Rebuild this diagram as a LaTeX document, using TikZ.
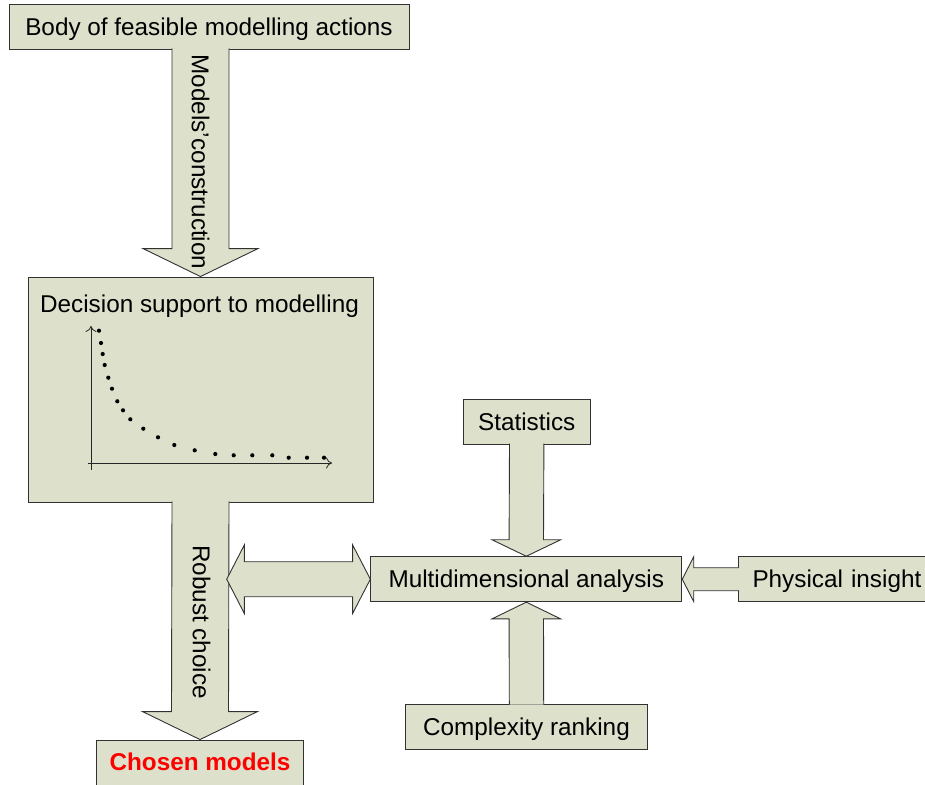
\documentclass[tikz,border=0pt]{standalone}
\usepackage{fontspec}
\setmainfont{Liberation Sans}
\usetikzlibrary{calc,arrows.meta}
\definecolor{boxfill}{RGB}{221,225,204}
\definecolor{edge}{RGB}{50,50,50}
\tikzset{
  txt/.style={font=\fontsize{24.3}{29}\selectfont, text height=22pt, text depth=4.6pt},
  box/.style={draw=edge, fill=boxfill, line width=0.9pt, inner sep=0pt, anchor=center, txt, text=black},
  barrow/.style={draw=edge, fill=boxfill, line width=0.9pt, line join=miter},
  lbl/.style={txt, inner sep=0pt},
  axis/.style={draw=black!85, line width=0.8pt, -{To[length=6pt,width=11pt]}},
  dot/.style={fill=black, draw=none}
}
\begin{document}
\begin{tikzpicture}[x=1pt,y=-1pt]
\useasboundingbox (0,0) rectangle (925,784);
% boxes
\node[box, minimum width=400pt, minimum height=45pt] (top) at (209,26.5) {Body of feasible modelling actions};
\node[box, minimum width=345pt, minimum height=225pt] (dec) at (200.5,389.5) {};
\node[lbl] (dectitle) at (199.5,303.5) {Decision support to modelling};
\node[box, minimum width=207pt, minimum height=50pt, text depth=10.6pt, font=\fontsize{24.3}{29}\selectfont\bfseries, text=red] (chosen) at (200,765) {Chosen models};
\node[box, minimum width=126.5pt, minimum height=44.7pt] (stat) at (526.7,421.7) {Statistics};
\node[box, minimum width=311pt, minimum height=45pt] (multi) at (526.3,579.2) {Multidimensional analysis};
\node[box, minimum width=200pt, minimum height=45pt, text width=172pt, align=left] (phys) at (838.5,579.2) {Physical insight};
\node[box, minimum width=241.4pt, minimum height=45.3pt] (comp) at (526.5,726.7) {Complexity ranking};

% plot inside decision box
\coordinate (orig) at (91,463);
\draw[axis] ($(orig)+(0,7)$) -- ($(orig)+(0,-137)$);
\draw[axis] ($(orig)+(-3,0)$) -- ($(orig)+(241,0)$);
\foreach \px/\py in {99/330.7,101/343,102.7/354,104.7/365,108.3/377.7,112/388.7,117.3/401.3,123/410.3,130.3/419.3,143.3/428.7,158/437.3,174.3/445,194.7/450.3,215.3/454,233.7/455.3,252.3/455.3,272.3/455.3,288.7/457.7,307/457.7,324/457.7}
  \fill[dot] (\px,\py) circle (2.1pt);

% big downward arrows
\coordinate (a1s) at ($(top.south -| dec.north)+(0,-1)$);
\coordinate (a1e) at (dec.north);
\draw[barrow] ($(a1s)+(-28.5,0)$) -- ($(a1e)+(-28.5,-28)$) -- ($(a1e)+(-57.5,-28)$) -- (a1e)
  -- ($(a1e)+(57.5,-28)$) -- ($(a1e)+(28.5,-28)$) -- ($(a1s)+(28.5,0)$);
\node[lbl, rotate=-90] (mc) at (200.5,162) {Models’construction};

\coordinate (a2s) at ($(dec.south)+(0,-1)$);
\coordinate (a2e) at (chosen.north);
\draw[barrow] ($(a2s)+(-28.5,0)$) -- ($(a2e)+(-28.5,-28)$) -- ($(a2e)+(-57.5,-28)$) -- (a2e)
  -- ($(a2e)+(57.5,-28)$) -- ($(a2e)+(28.5,-28)$) -- ($(a2s)+(28.5,0)$);
\node[lbl, rotate=-90] (rc) at (201.5,622) {Robust choice};

% statistics arrow (down)
\coordinate (a3s) at ($(stat.south)+(0,-1)$);
\coordinate (a3e) at (multi.north);
\draw[barrow] ($(a3s)+(-17.2,0)$) -- ($(a3e)+(-17.2,-16.5)$) -- ($(a3e)+(-34.3,-16.5)$) -- (a3e)
  -- ($(a3e)+(34.3,-16.5)$) -- ($(a3e)+(17.2,-16.5)$) -- ($(a3s)+(17.2,0)$);

% complexity arrow (up)
\coordinate (a4s) at ($(comp.north)+(0,1)$);
\coordinate (a4e) at (multi.south);
\draw[barrow] ($(a4s)+(-17.2,0)$) -- ($(a4e)+(-17.2,16.7)$) -- ($(a4e)+(-34.3,16.7)$) -- (a4e)
  -- ($(a4e)+(34.3,16.7)$) -- ($(a4e)+(17.2,16.7)$) -- ($(a4s)+(17.2,0)$);

% physical insight arrow (left)
\coordinate (a5s) at ($(phys.west)+(1,0)$);
\coordinate (a5e) at (multi.east);
\draw[barrow] ($(a5s)+(0,-11.5)$) -- ($(a5e)+(11.5,-11.5)$) -- ($(a5e)+(11.5,-22.5)$) -- (a5e)
  -- ($(a5e)+(11.5,22.5)$) -- ($(a5e)+(11.5,11.5)$) -- ($(a5s)+(0,11.5)$);

% double arrow between robust choice shaft and multidimensional analysis
\coordinate (a6r) at (multi.west);
\coordinate (a6l) at (226.7,579.2);
\draw[barrow] (a6l) -- ($(a6l)+(17.6,-34.2)$) -- ($(a6l)+(17.6,-17.5)$) -- ($(a6r)+(-17.7,-17.5)$)
  -- ($(a6r)+(-17.7,-34.2)$) -- (a6r) -- ($(a6r)+(-17.7,34.2)$) -- ($(a6r)+(-17.7,17.5)$)
  -- ($(a6l)+(17.6,17.5)$) -- ($(a6l)+(17.6,34.2)$) -- cycle;
\end{tikzpicture}
\end{document}
